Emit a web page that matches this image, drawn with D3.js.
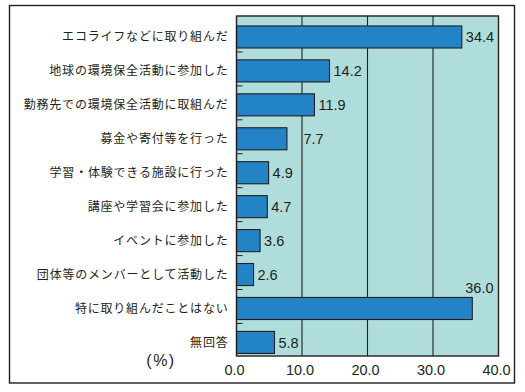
<!DOCTYPE html>
<html>
<head>
<meta charset="utf-8">
<script src="https://d3js.org/d3.v7.min.js"></script>
<style>
  body { margin: 0; background: #fff; }
  .cat { font-family: "Noto Sans CJK JP", sans-serif; font-size: 12px; letter-spacing: 0.8px; fill: #231f20; }
  .num { font-family: "Liberation Sans", Arial, sans-serif; font-size: 14.5px; fill: #231f20; }
</style>
</head>
<body>
<div id="chart"></div>
<script>
// categories and values (%)
var categories = [
  "エコライフなどに取り組んだ",
  "地球の環境保全活動に参加した",
  "勤務先での環境保全活動に取組んだ",
  "募金や寄付等を行った",
  "学習・体験できる施設に行った",
  "講座や学習会に参加した",
  "イベントに参加した",
  "団体等のメンバーとして活動した",
  "特に取り組んだことはない",
  "無回答"
];
var values = [34.4, 14.2, 11.9, 7.7, 4.9, 4.7, 3.6, 2.6, 36.0, 5.8];
var xTicks = [0, 10, 20, 30, 40];

var W = 525, H = 392;
var plot = {left: 236.5, right: 498.5, top: 16, bottom: 356};
var ink = "#231f20";

var svg = d3.select("#chart").append("svg")
  .attr("width", W).attr("height", H);

// outer frame
svg.append("rect")
  .attr("x", 9.5).attr("y", 5.5)
  .attr("width", 505).attr("height", 377.5)
  .attr("fill", "#fff").attr("stroke", ink).attr("stroke-width", 1.4);

var x = d3.scaleLinear().domain([0, 40]).range([plot.left, plot.right]);
var y = d3.scaleBand().domain(categories).range([20, 359.4])
  .paddingInner(0.35).paddingOuter(0.175);

// plot background
svg.append("rect")
  .attr("x", plot.left).attr("y", plot.top)
  .attr("width", plot.right - plot.left).attr("height", plot.bottom - plot.top)
  .attr("fill", "#aedddb");

// grid lines
svg.selectAll("line.grid")
  .data(xTicks.slice(1, -1))
  .enter().append("line")
  .attr("class", "grid")
  .attr("x1", function(d) { return x(d); }).attr("x2", function(d) { return x(d); })
  .attr("y1", plot.top).attr("y2", plot.bottom)
  .attr("stroke", ink).attr("stroke-width", 1.1);

// small ticks between rows
svg.selectAll("line.tick")
  .data(categories.slice(0, -1))
  .enter().append("line")
  .attr("class", "tick")
  .attr("x1", plot.left).attr("x2", plot.left + 6)
  .attr("y1", function(d) { return y(d) + y.bandwidth() + y.step() * y.paddingInner() / 2 - 2; })
  .attr("y2", function(d) { return y(d) + y.bandwidth() + y.step() * y.paddingInner() / 2 - 2; })
  .attr("stroke", ink).attr("stroke-width", 1);

// bars
svg.selectAll("rect.bar")
  .data(values)
  .enter().append("rect")
  .attr("class", "bar")
  .attr("x", x(0))
  .attr("y", function(d, i) { return y(categories[i]); })
  .attr("width", function(d) { return x(d) - x(0); })
  .attr("height", y.bandwidth())
  .attr("fill", "#2383c7")
  .attr("stroke", ink).attr("stroke-width", 1.1);

// plot border
svg.append("rect")
  .attr("x", plot.left).attr("y", plot.top)
  .attr("width", plot.right - plot.left).attr("height", plot.bottom - plot.top)
  .attr("fill", "none").attr("stroke", ink).attr("stroke-width", 1.4);

// category labels
svg.selectAll("text.cat")
  .data(categories)
  .enter().append("text")
  .attr("class", "cat")
  .attr("x", 228.5)
  .attr("y", function(d) { return y(d) + y.bandwidth() / 2; })
  .attr("dy", "0.36em")
  .attr("text-anchor", "end")
  .text(function(d) { return d; });

// value labels
svg.selectAll("text.num.val")
  .data(values)
  .enter().append("text")
  .attr("class", "num val")
  .text(function(d) { return d.toFixed(1); })
  .each(function(d, i) {
    var t = d3.select(this);
    var w = this.getComputedTextLength();
    var cy = y(categories[i]) + y.bandwidth() / 2;
    var lx = x(d) + 4;
    if (lx + w > plot.right - 2) {
      // no room on the right: put it above the bar end
      t.attr("x", plot.right - 5).attr("y", y(categories[i]) - 4)
        .attr("text-anchor", "end");
      return;
    }
    // keep the label clear of grid lines
    xTicks.forEach(function(g) {
      var gx = x(g);
      if (gx > lx - 1 && gx < lx + w + 1) lx = gx + 1.5;
    });
    t.attr("x", lx).attr("y", cy).attr("dy", "0.36em");
  });

// x axis labels
svg.selectAll("text.xt")
  .data(xTicks)
  .enter().append("text")
  .attr("class", "num xt")
  .attr("x", function(d) { return x(d) - 2; })
  .attr("y", 375)
  .attr("text-anchor", "middle")
  .text(function(d) { return d.toFixed(1); });

// unit
svg.append("text")
  .attr("class", "num")
  .attr("x", 161).attr("y", 365.5)
  .attr("text-anchor", "middle")
  .style("font-size", "16px")
  .style("letter-spacing", "1.5px")
  .text("(%)");
</script>
</body>
</html>
